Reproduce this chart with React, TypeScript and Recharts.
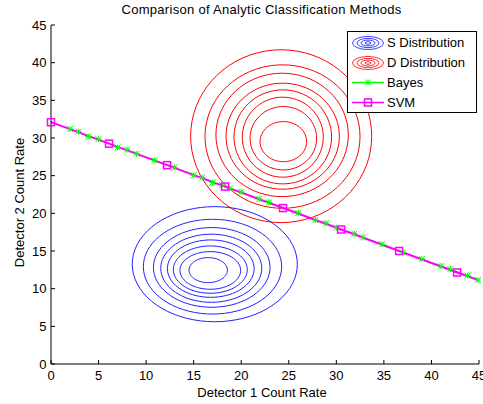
import { Label, Line, LineChart, XAxis, YAxis } from 'recharts';

document.body.style.margin = '0';

const FONT = '"Liberation Sans", Arial, sans-serif';

const axisTicks = [0, 5, 10, 15, 20, 25, 30, 35, 40, 45];

// S distribution contours (blue), outer -> inner
const sCenterX = [17.22, 16.98, 16.9, 16.85, 16.8, 16.75, 16.75, 16.53];
const sCenterY = [13.25, 12.92, 12.82, 12.71, 12.66, 12.53, 12.42, 12.46];
const sRadX = [8.68, 7.27, 6.13, 5.31, 4.56, 3.89, 3.19, 2.02];
const sRadY = [7.64, 6.29, 5.29, 4.52, 3.81, 3.14, 2.5, 1.66];

// D distribution contours (red), outer -> inner
const dCenterX = [24.2, 24.34, 24.3, 24.36, 24.37, 24.37, 24.43, 24.43];
const dCenterY = [30.24, 30.19, 30.41, 30.24, 30.15, 30.11, 29.97, 29.52];
const dRadX = [9.52, 8.15, 6.96, 5.96, 5.13, 4.26, 3.5, 2.45];
const dRadY = [11.47, 9.52, 8.19, 7.04, 6.24, 5.31, 4.21, 2.66];

// Bayes boundary
const bayesX = [2.0, 2.9, 3.9, 5.0, 7.0, 8.0, 9.0, 10.9, 13.0, 15.0, 15.9, 17.0, 18.0, 18.8, 20.0, 21.9, 22.9, 26.0, 27.8, 28.9, 30.0, 31.9, 32.8, 34.8, 37.0, 39.0, 41.0, 42.0, 43.8, 44.9];
const bayesY = [31.2, 30.85, 30.2, 29.85, 28.75, 28.45, 27.9, 27.05, 26.1, 25.05, 24.75, 24.1, 23.75, 23.3, 22.85, 21.9, 21.45, 20.05, 19.1, 18.7, 18.1, 17.3, 16.8, 15.9, 14.8, 13.95, 13.0, 12.6, 11.75, 11.15];

// SVM boundary (markers on all but the end point)
const svmX = [0, 6.1, 12.2, 18.3, 24.4, 30.5, 36.6, 42.7, 45];
const svmY = [32.1, 29.25, 26.4, 23.55, 20.7, 17.85, 15.0, 12.15, 11.1];

function ring(cx: number, cy: number, rx: number, ry: number) {
  const pts: { x: number; y: number }[] = [];
  for (let i = 0; i <= 72; i++) {
    const t = (i / 72) * Math.PI * 2;
    pts.push({ x: cx + rx * Math.cos(t), y: cy + ry * Math.sin(t) });
  }
  return pts;
}

const sRings = sRadX.map((rx, i) => ring(sCenterX[i], sCenterY[i], rx, sRadY[i]));
const dRings = dRadX.map((rx, i) => ring(dCenterX[i], dCenterY[i], rx, dRadY[i]));
const bayesData = bayesX.map((x, i) => ({ x, y: bayesY[i] }));
const svmData = svmX.map((x, i) => ({ x, y: svmY[i], mark: i < svmX.length - 1 }));

function Star({ cx, cy }: { cx?: number; cy?: number }) {
  if (cx == null || cy == null) return <g />;
  const r = 3;
  return (
    <g stroke="#00ff00" strokeWidth={1}>
      <line x1={cx - r} y1={cy - r} x2={cx + r} y2={cy + r} />
      <line x1={cx - r} y1={cy + r} x2={cx + r} y2={cy - r} />
      <line x1={cx - r} y1={cy} x2={cx + r} y2={cy} />
      <line x1={cx} y1={cy - r} x2={cx} y2={cy + r} />
    </g>
  );
}

function SvmDot(props: any) {
  const { cx, cy, payload, index } = props;
  if (!payload?.mark || cx == null) return <g key={index} />;
  return (
    <rect key={index} x={cx - 3.5} y={cy - 3.5} width={7} height={7} fill="none" stroke="#ff00ff" strokeWidth={1.5} />
  );
}

function LegendBox() {
  return (
    <div
      style={{
        position: 'absolute',
        left: 347,
        top: 31,
        width: 128,
        height: 80,
        border: '1px solid #000',
        background: '#fff',
        fontFamily: FONT,
        fontSize: 13,
      }}
    >
      <svg width={128} height={80} style={{ position: 'absolute', left: 0, top: 0 }}>
        {[15.5, 11, 7, 3].map((rx, i) => (
          <ellipse key={'s' + i} cx={20} cy={11} rx={rx} ry={rx * 0.42} fill="none" stroke="#4040ff" />
        ))}
        {[15.5, 11, 7, 3].map((rx, i) => (
          <ellipse key={'d' + i} cx={20} cy={31} rx={rx} ry={rx * 0.42} fill="none" stroke="#ff3030" />
        ))}
        <line x1={4} y1={50.5} x2={36} y2={50.5} stroke="#00ff00" strokeWidth={1.5} />
        <Star cx={20} cy={50.5} />
        <line x1={4} y1={70.5} x2={36} y2={70.5} stroke="#ff00ff" strokeWidth={1.5} />
        <rect x={16.5} y={67} width={7} height={7} fill="none" stroke="#ff00ff" strokeWidth={1.5} />
      </svg>
      {['S Distribution', 'D Distribution', 'Bayes', 'SVM'].map((t, i) => (
        <div key={t} style={{ position: 'absolute', left: 39, top: 3 + i * 20, lineHeight: '16px', whiteSpace: 'nowrap' }}>
          {t}
        </div>
      ))}
    </div>
  );
}

export default function App() {
  const tickStyle = { fill: '#000', fontSize: 13, fontFamily: FONT };
  return (
    <div style={{ position: 'relative', width: 483, height: 404, background: '#fff', overflow: 'hidden' }}>
      <LineChart width={483} height={404} margin={{ top: 25, right: 4, left: 0, bottom: 0 }}>
        <XAxis
          type="number"
          dataKey="x"
          domain={[0, 45]}
          ticks={axisTicks}
          interval={0}
          height={40}
          tickSize={-4}
          tickMargin={11}
          tick={tickStyle}
          axisLine={{ stroke: '#000' }}
          tickLine={{ stroke: '#000' }}
        >
          <Label value="Detector 1 Count Rate" position="insideBottom" offset={7} dx={-3} fill="#000" fontSize={13} fontFamily={FONT} />
        </XAxis>
        <YAxis
          type="number"
          dataKey="y"
          domain={[0, 45]}
          ticks={axisTicks}
          interval={0}
          width={51}
          tickSize={-4}
          tickMargin={8.5}
          tick={tickStyle}
          axisLine={{ stroke: '#000' }}
          tickLine={{ stroke: '#000' }}
        >
          <Label value="Detector 2 Count Rate" position="center" angle={-90} dx={-6} dy={8} fill="#000" fontSize={13} fontFamily={FONT} />
        </YAxis>
        {sRings.map((d, i) => (
          <Line key={'s' + i} data={d} dataKey="y" type="linear" stroke="#2020ff" strokeWidth={1} dot={false} isAnimationActive={false} />
        ))}
        {dRings.map((d, i) => (
          <Line key={'d' + i} data={d} dataKey="y" type="linear" stroke="#ff0000" strokeWidth={1} dot={false} isAnimationActive={false} />
        ))}
        <Line data={bayesData} dataKey="y" type="linear" stroke="#00ff00" strokeWidth={1} dot={<Star />} isAnimationActive={false} />
        <Line data={svmData} dataKey="y" type="linear" stroke="#ff00ff" strokeWidth={2} dot={SvmDot} isAnimationActive={false} />
      </LineChart>
      <div
        style={{
          position: 'absolute',
          left: 261.5,
          top: 2,
          transform: 'translateX(-50%)',
          whiteSpace: 'nowrap',
          fontFamily: FONT,
          fontSize: 13,
          lineHeight: '16px',
          letterSpacing: 0.3,
        }}
      >
        Comparison of Analytic Classification Methods
      </div>
      <LegendBox />
    </div>
  );
}
